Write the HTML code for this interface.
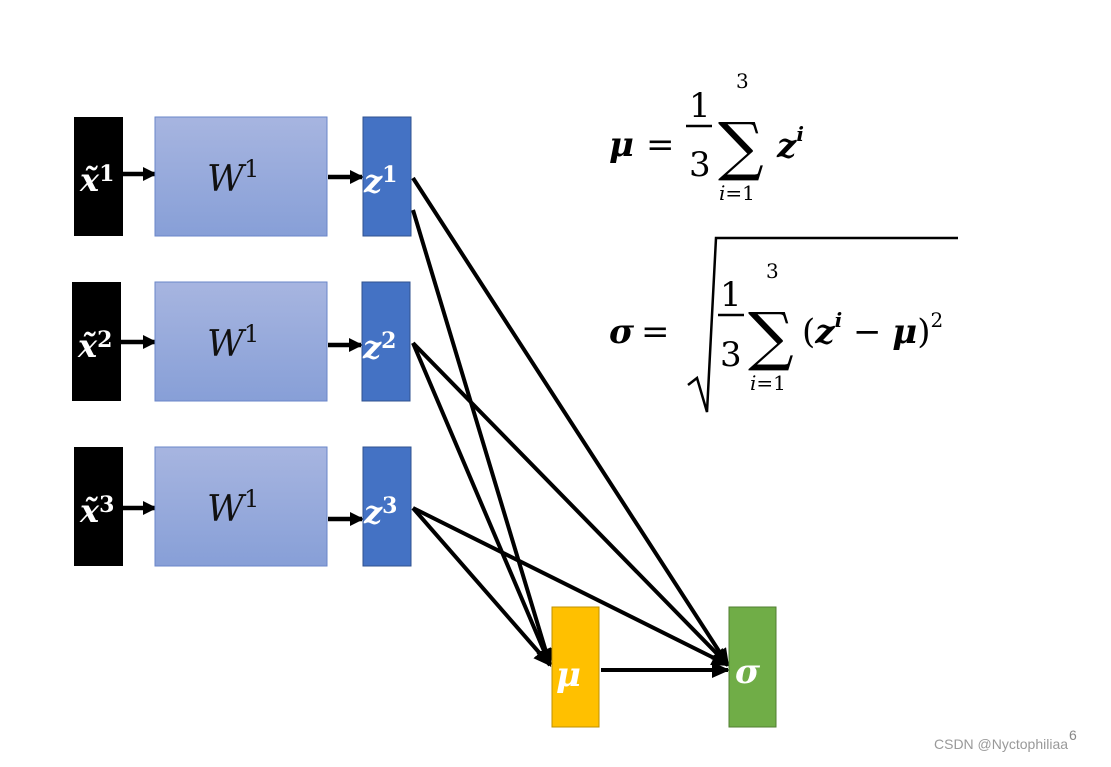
<!DOCTYPE html>
<html><head><style>
body{margin:0;background:#fff;width:1111px;height:762px;overflow:hidden}
text{font-family:"DejaVu Serif","Liberation Serif",serif}
</style></head><body>
<svg width="1111" height="762" viewBox="0 0 1111 762">
<defs>
<linearGradient id="g" x1="0" y1="0" x2="0" y2="1"><stop offset="0" stop-color="#a7b5e0"/><stop offset="1" stop-color="#879fd7"/></linearGradient>
<marker id="a" markerWidth="14" markerHeight="14" refX="12" refY="7" orient="auto" markerUnits="userSpaceOnUse"><path d="M0,0 L14,7 L0,14 z" fill="#000"/></marker>
<marker id="b" markerWidth="18" markerHeight="16" refX="16" refY="8" orient="auto" markerUnits="userSpaceOnUse"><path d="M0,0 L18,8 L0,16 z" fill="#000"/></marker>
</defs>
<g stroke="#000" stroke-width="4" marker-end="url(#b)">
<line x1="413" y1="178" x2="728" y2="665"/>
<line x1="413" y1="210" x2="550" y2="665"/>
<line x1="413" y1="343" x2="550" y2="665"/>
<line x1="413" y1="343" x2="728" y2="665"/>
<line x1="413" y1="508" x2="550" y2="665"/>
<line x1="413" y1="508" x2="728" y2="665"/>
<line x1="601" y1="670" x2="728" y2="670"/>
</g>
<g stroke="#000" stroke-width="4.5" marker-end="url(#a)">
<line x1="123" y1="174" x2="155" y2="174"/><line x1="328" y1="177" x2="362" y2="177"/>
<line x1="121" y1="342" x2="155" y2="342"/><line x1="328" y1="345" x2="361" y2="345"/>
<line x1="123" y1="508" x2="155" y2="508"/><line x1="328" y1="519" x2="362" y2="519"/>
</g>
<rect x="74" y="117" width="49" height="119" fill="#000"/>
<rect x="72" y="282" width="49" height="119" fill="#000"/>
<rect x="74" y="447" width="49" height="119" fill="#000"/>
<rect x="155" y="117" width="172" height="119" fill="url(#g)" stroke="#6a86c8"/>
<rect x="155" y="282" width="172" height="119" fill="url(#g)" stroke="#6a86c8"/>
<rect x="155" y="447" width="172" height="119" fill="url(#g)" stroke="#6a86c8"/>
<g font-size="36" font-style="italic" fill="#111">
<text x="207" y="191">W<tspan font-style="normal" font-size="24" dy="-14">1</tspan></text>
<text x="207" y="356">W<tspan font-style="normal" font-size="24" dy="-14">1</tspan></text>
<text x="207" y="521">W<tspan font-style="normal" font-size="24" dy="-14">1</tspan></text>
</g>
<g fill="#4472c4" stroke="#2f528f">
<rect x="363" y="117" width="48" height="119"/><rect x="362" y="282" width="48" height="119"/><rect x="363" y="447" width="48" height="119"/>
</g>
<rect x="552" y="607" width="47" height="120" fill="#ffc000" stroke="#bf9000"/>
<rect x="729" y="607" width="47" height="120" fill="#70ad47" stroke="#507e32"/>
<g fill="#fff" font-weight="bold" font-style="italic" font-size="32">
<text x="80" y="191">x̃<tspan font-size="22" font-style="normal" dy="-10">1</tspan></text>
<text x="78" y="357">x̃<tspan font-size="22" font-style="normal" dy="-10">2</tspan></text>
<text x="80" y="522">x̃<tspan font-size="22" font-style="normal" dy="-10">3</tspan></text>
<text x="364" y="192">z<tspan font-size="22" font-style="normal" dy="-10">1</tspan></text>
<text x="363" y="358">z<tspan font-size="22" font-style="normal" dy="-10">2</tspan></text>
<text x="364" y="523">z<tspan font-size="22" font-style="normal" dy="-10">3</tspan></text>
<text x="556" y="686" font-size="34">μ</text>
<text x="735" y="683" font-size="34">σ</text>
</g>
<g fill="#000" font-size="34">
<text x="609" y="156" font-weight="bold" font-style="italic">μ</text>
<text x="646" y="156">=</text>
<text x="689" y="117">1</text><line x1="686" y1="126" x2="712" y2="126" stroke="#000" stroke-width="2.5"/>
<text x="689" y="176">3</text>
<text x="718" y="168" font-size="64">∑</text>
<text x="736" y="88" font-size="20">3</text>
<text x="719" y="200" font-size="20"><tspan font-style="italic">i</tspan>=1</text>
<text x="777" y="157" font-weight="bold" font-style="italic">z<tspan font-size="20" dy="-16">i</tspan></text>
<text x="609" y="343" font-weight="bold" font-style="italic">σ</text>
<text x="641" y="343">=</text>
<path d="M688,385 L697,378 L707,412 L716,238 L958,238" fill="none" stroke="#000" stroke-width="2.5"/>
<text x="720" y="306">1</text><line x1="718" y1="315" x2="744" y2="315" stroke="#000" stroke-width="2.5"/>
<text x="720" y="366">3</text>
<text x="748" y="358" font-size="64">∑</text>
<text x="766" y="278" font-size="20">3</text>
<text x="750" y="390" font-size="20"><tspan font-style="italic">i</tspan>=1</text>
<text x="802" y="343">(<tspan font-weight="bold" font-style="italic">z</tspan><tspan font-size="20" font-weight="bold" font-style="italic" dy="-16">i</tspan><tspan dy="16"> − </tspan><tspan font-weight="bold" font-style="italic">μ</tspan>)<tspan font-size="20" dy="-16">2</tspan></text>
</g>
<text x="1069" y="740" font-size="14" fill="#888" style="font-family:'Liberation Sans',sans-serif">6</text>
<text x="934" y="749" font-size="14" fill="#999" style="font-family:'Liberation Sans',sans-serif">CSDN @Nyctophiliaa</text>
</svg>
</body></html>
